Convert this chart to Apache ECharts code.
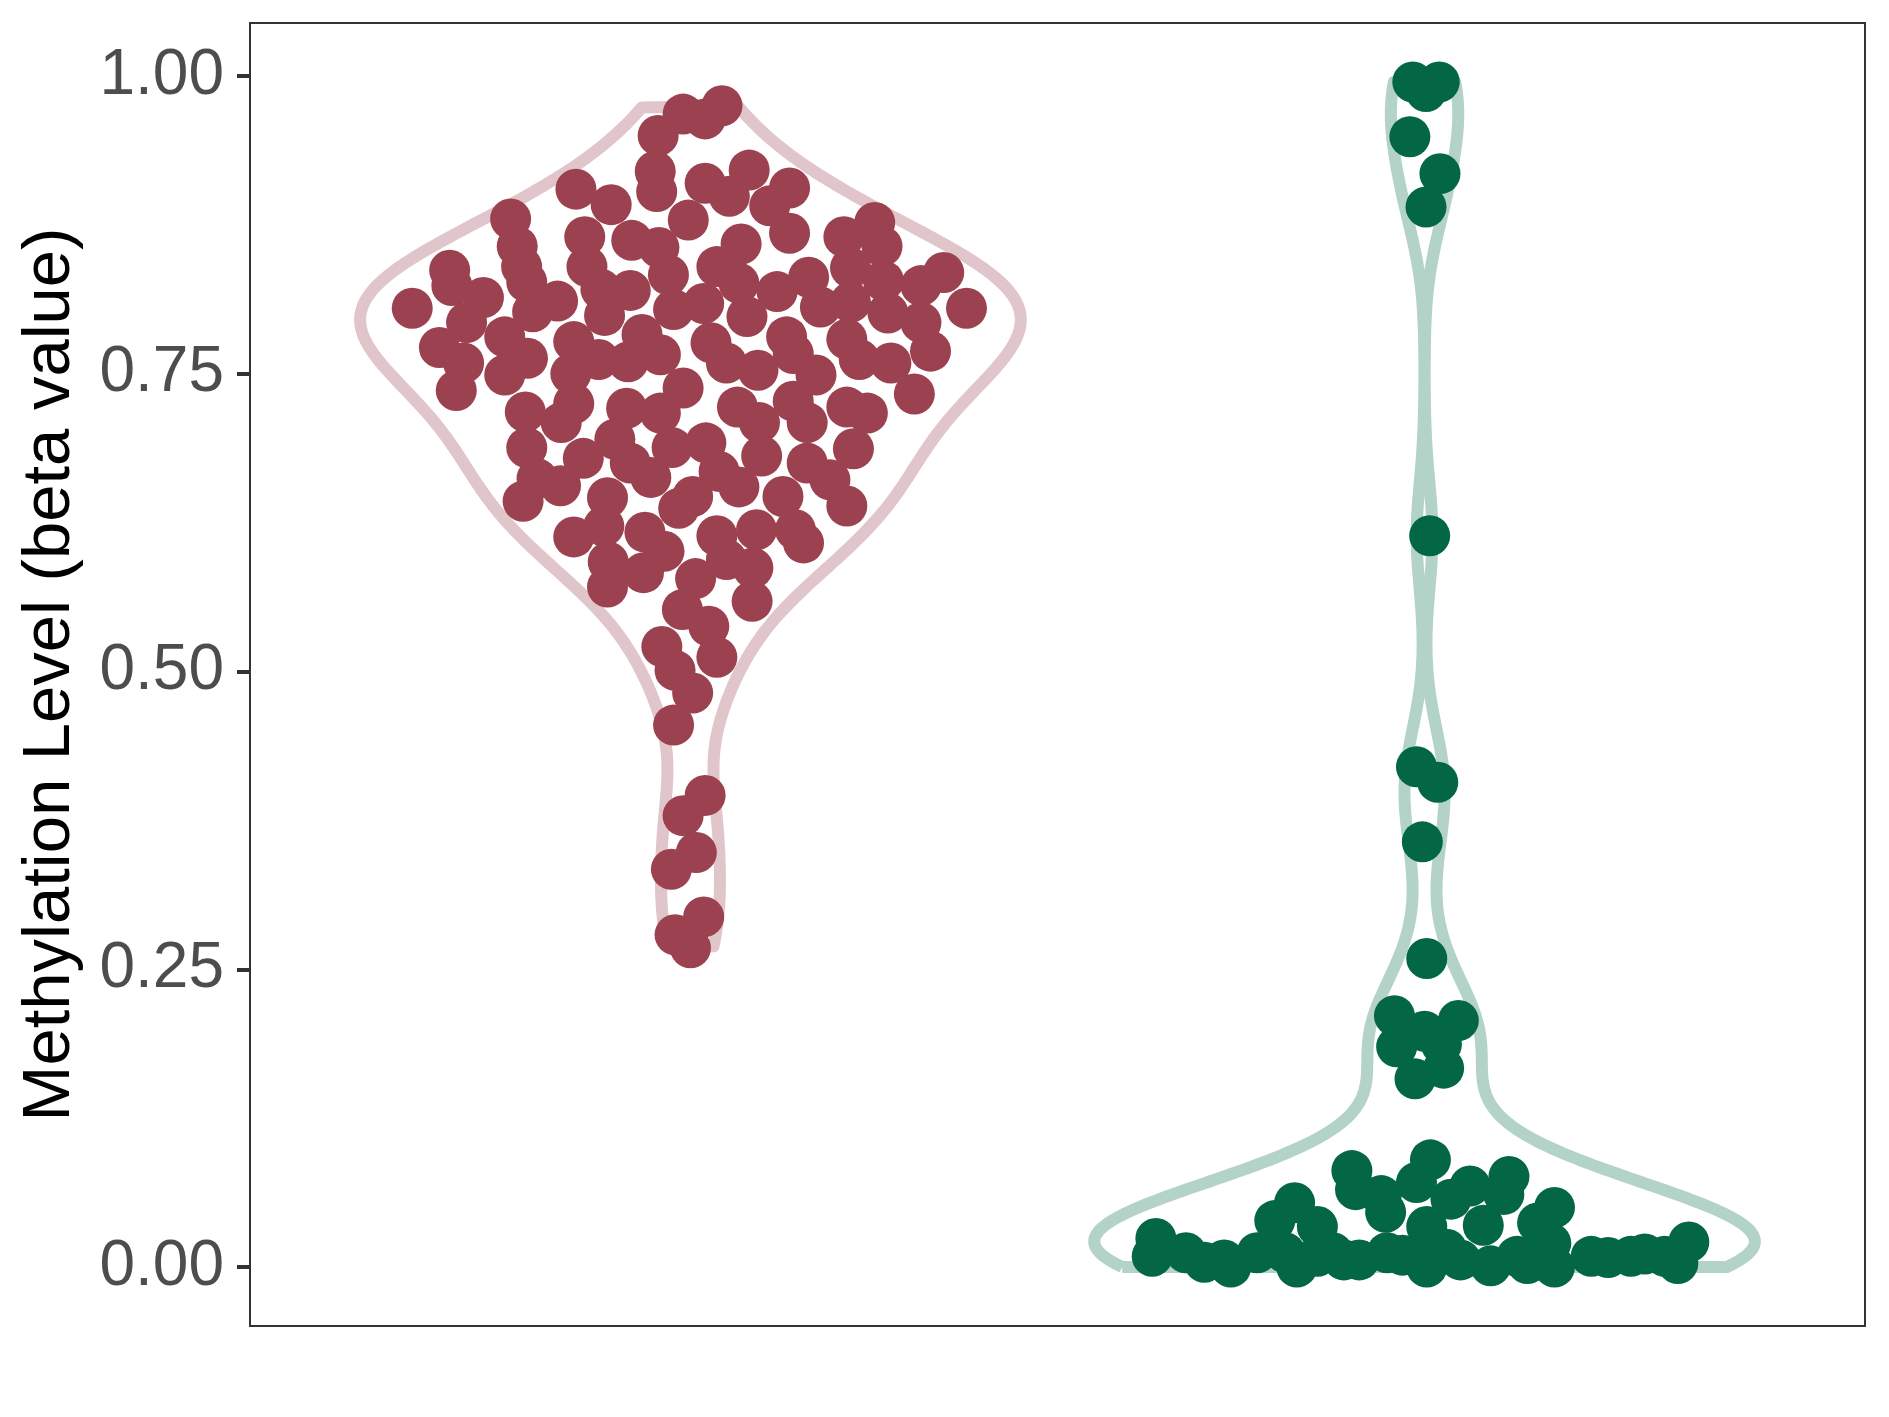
<!DOCTYPE html>
<html><head><meta charset="utf-8">
<script src="https://cdn.jsdelivr.net/npm/echarts@6/dist/echarts.min.js"></script>
<style>html,body{margin:0;padding:0;background:#fff}#c{width:1889px;height:1417px}</style>
</head><body><div id="c"></div>
<script>
// ---- data ----
const categories = ['Group A', 'Group B'];
const yTicks = [0, 0.25, 0.5, 0.75, 1];

const redValues = [
0.975,0.968,0.964,0.950,0.921,0.920,0.910,0.903,0.899,0.905,
0.892,0.906,0.891,0.879,0.880,0.877,0.865,0.868,0.865,0.862,
0.856,0.859,0.857,0.857,0.840,0.840,0.827,0.837,0.824,0.814,
0.840,0.826,0.833,0.820,0.821,0.819,0.831,0.839,0.828,0.824,
0.835,0.805,0.805,0.802,0.811,0.799,0.804,0.809,0.798,0.806,
0.810,0.801,0.793,0.793,0.781,0.783,0.772,0.777,0.776,0.781,
0.779,0.769,0.763,0.759,0.767,0.762,0.762,0.749,0.750,0.766,
0.760,0.759,0.753,0.749,0.759,0.733,0.736,0.725,0.738,0.718,
0.721,0.722,0.727,0.722,0.717,0.709,0.695,0.717,0.709,0.709,
0.692,0.688,0.688,0.687,0.681,0.679,0.675,0.675,0.668,0.662,
0.656,0.663,0.655,0.661,0.646,0.647,0.647,0.637,0.639,0.643,
0.617,0.622,0.613,0.614,0.619,0.619,0.608,0.601,0.594,0.587,
0.592,0.583,0.571,0.578,0.559,0.552,0.538,0.521,0.512,0.501,
0.482,0.455,0.396,0.379,0.348,0.334,0.294,0.279,0.268];
const redJitter = [
0.043,-0.010,0.020,-0.044,0.080,-0.048,0.020,-0.046,0.053,-0.156,
-0.108,0.135,0.108,-0.003,-0.245,0.251,0.209,0.135,-0.144,-0.080,
-0.043,0.069,0.261,-0.236,-0.230,-0.141,-0.223,-0.328,-0.325,-0.282,
0.036,0.066,-0.030,-0.082,-0.122,0.118,0.161,0.218,0.263,0.314,
0.345,-0.379,0.376,-0.215,-0.181,-0.117,-0.023,0.018,0.077,0.177,
0.218,0.269,-0.305,0.314,-0.253,-0.066,-0.342,-0.159,0.028,0.131,
0.213,0.327,-0.222,-0.309,0.140,-0.125,0.230,-0.253,-0.163,-0.041,
-0.085,0.049,0.092,0.171,0.273,0.305,-0.319,-0.159,-0.010,-0.225,
-0.087,0.064,0.140,0.213,0.241,-0.176,-0.103,-0.041,0.094,0.159,
0.021,-0.025,-0.223,0.222,0.097,-0.146,-0.082,0.159,0.039,-0.209,
-0.177,-0.054,0.066,0.190,-0.113,0.126,0.003,-0.016,0.213,-0.228,
-0.062,-0.118,-0.159,0.036,0.090,0.143,0.154,-0.036,0.049,0.085,
-0.112,-0.064,-0.113,0.007,0.084,-0.011,0.025,-0.039,0.036,-0.021,
0.003,-0.023,0.020,-0.010,0.008,-0.026,0.018,-0.021,0.000];

// visible points first, then points mostly hidden under the dense bottom row
const greenValues = [
0.995,0.995,0.987,0.949,0.918,0.890,0.614,0.420,0.407,0.357,
0.259,0.211,0.207,0.198,0.185,0.187,0.167,0.158,
0.024,0.009,0.012,0.006,0.000,0.012,0.039,0.054,0.000,0.034,
0.009,0.012,0.081,0.065,0.060,0.046,0.006,0.012,0.071,0.090,
0.034,0.009,0.000,0.057,0.006,0.068,0.035,0.001,0.061,0.076,
0.037,0.009,0.020,0.050,0.000,0.009,0.009,0.009,0.003,0.021,
0.004,0.012,0.006,0.010,0.015,0.003,0.008,0.011];
const greenJitter = [
-0.016,0.020,0.002,-0.020,0.021,0.002,0.007,-0.011,0.018,-0.003,
0.003,-0.041,0.046,0.000,-0.038,0.023,0.026,-0.013,
-0.366,-0.371,-0.325,-0.273,-0.264,-0.228,-0.204,-0.177,-0.174,-0.146,
-0.146,-0.125,-0.099,-0.094,-0.059,-0.053,-0.089,-0.051,-0.011,0.008,
0.003,-0.005,0.003,0.036,0.049,0.062,0.080,0.090,0.108,0.115,
0.154,0.126,0.172,0.177,0.177,0.227,0.281,0.327,0.345,0.360,
-0.300,-0.190,-0.110,-0.030,0.030,0.140,0.250,0.300];

// ---- violin (Gaussian KDE, bw.nrd0, trimmed, scaled to width) ----
function quantile(s, p) {
  const h = (s.length - 1) * p, lo = Math.floor(h), hi = Math.min(lo + 1, s.length - 1);
  return s[lo] + (h - lo) * (s[hi] - s[lo]);
}
function bwNrd0(v) {
  const n = v.length, m = v.reduce((a, b) => a + b, 0) / n;
  const sd = Math.sqrt(v.reduce((a, b) => a + (b - m) * (b - m), 0) / (n - 1));
  const s = v.slice().sort((a, b) => a - b);
  const iqr = quantile(s, 0.75) - quantile(s, 0.25);
  let lo = Math.min(sd, iqr / 1.34);
  if (!(lo > 0)) lo = sd || 1;
  return 0.9 * lo * Math.pow(n, -0.2);
}
function violinOutline(values, center) {
  const bw = bwNrd0(values);
  const mn = Math.min(...values), mx = Math.max(...values);
  const N = 512, ys = [], ds = [];
  for (let i = 0; i < N; i++) {
    const y = mn + (mx - mn) * i / (N - 1);
    let d = 0;
    for (const v of values) { const z = (y - v) / bw; d += Math.exp(-0.5 * z * z); }
    ys.push(y); ds.push(d);
  }
  const maxD = Math.max(...ds);
  const left = ys.map((y, i) => [center - 0.45 * ds[i] / maxD, y]);
  const right = ys.map((y, i) => [center + 0.45 * ds[i] / maxD, y]).reverse();
  const path = left.concat(right);
  path.push(left[0]);
  return path;
}

const redColor = '#9B4150', redLine = '#E0C5CA';
const greenColor = '#036645', greenLine = '#B3D3C8';

const chart = echarts.init(document.getElementById('c'), null, {renderer: 'canvas'});
chart.setOption({
  animation: false,
  backgroundColor: '#ffffff',
  grid: {left: 250, right: 24, top: 23, bottom: 91, show: true,
         borderColor: '#333333', borderWidth: 2, backgroundColor: 'transparent'},
  xAxis: {type: 'value', min: 0.4, max: 2.6, show: false},
  yAxis: {
    type: 'value', min: -0.0495, max: 1.0445,
    name: 'Methylation Level (beta value)', nameLocation: 'middle', nameRotate: 90, nameGap: 166,
    nameTextStyle: {fontFamily: 'Liberation Sans', fontSize: 67, color: '#000000'},
    axisLine: {show: false},
    splitLine: {show: false},
    axisTick: {show: true, length: 13, customValues: yTicks, lineStyle: {color: '#333333', width: 4}},
    axisLabel: {customValues: yTicks, margin: 26, fontFamily: 'Liberation Sans', fontSize: 64, color: '#4D4D4D',
                padding: [12, 0, 0, 0], formatter: v => v.toFixed(2)}
  },
  series: [
    {type: 'line', name: categories[0] + ' violin', data: violinOutline(redValues, 1), symbol: 'none', silent: true,
     lineStyle: {color: redLine, width: 12, join: 'round'}, z: 1},
    {type: 'line', name: categories[1] + ' violin', data: violinOutline(greenValues, 2), symbol: 'none', silent: true,
     lineStyle: {color: greenLine, width: 12, join: 'round'}, z: 1},
    {type: 'scatter', name: categories[0], data: redValues.map((v, i) => [1 + redJitter[i], v]),
     symbolSize: 41, itemStyle: {color: redColor, opacity: 1}, z: 3},
    {type: 'scatter', name: categories[1], data: greenValues.map((v, i) => [2 + greenJitter[i], v]),
     symbolSize: 41, itemStyle: {color: greenColor, opacity: 1}, z: 3}
  ]
});
</script></body></html>
